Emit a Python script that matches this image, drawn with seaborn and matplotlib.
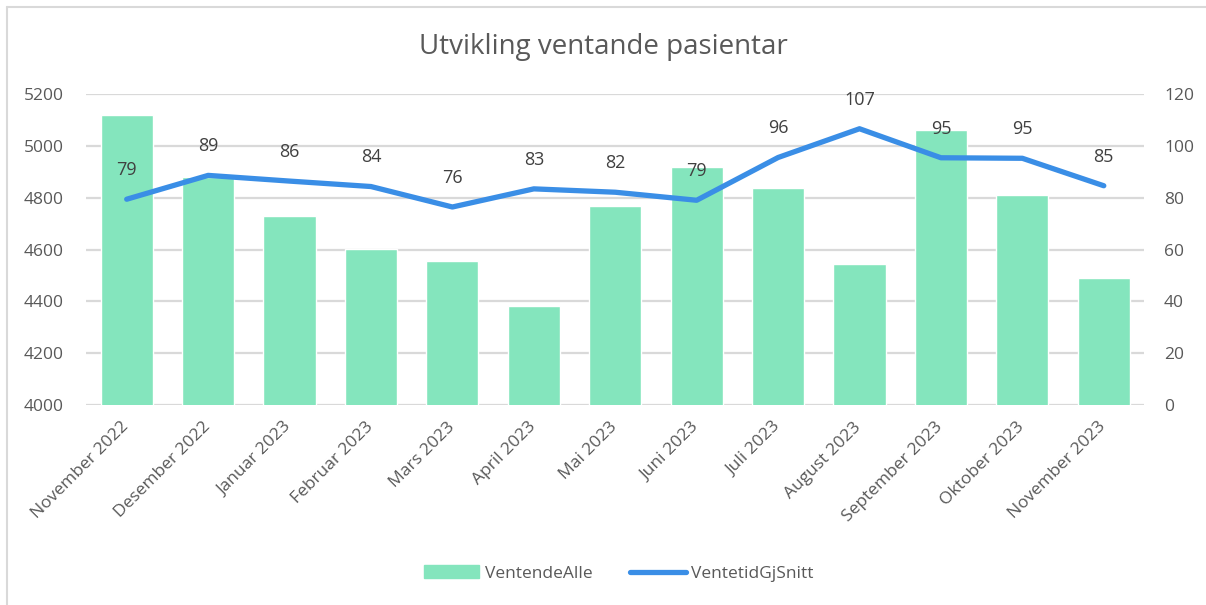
import numpy as np
import pandas as pd
import matplotlib
matplotlib.use("Agg")
import matplotlib.pyplot as plt
import matplotlib.transforms as mtransforms
import seaborn as sns
from matplotlib.lines import Line2D
from matplotlib.patches import Patch

# DATA
maaneder = ["November 2022", "Desember 2022", "Januar 2023", "Februar 2023",
            "Mars 2023", "April 2023", "Mai 2023", "Juni 2023", "Juli 2023",
            "August 2023", "September 2023", "Oktober 2023", "November 2023"]
ventende_alle = [5119, 4879, 4729, 4602, 4556, 4382, 4768, 4919, 4838,
                 4543, 5061, 4809, 4490]
ventetid_snitt = [79.4, 88.6, 86.4, 84.3, 76.4, 83.4, 82.1, 79.0, 95.5,
                  106.6, 95.4, 95.2, 84.6]

df = pd.DataFrame({"Maaned": maaneder, "VentendeAlle": ventende_alle,
                   "VentetidGjSnitt": ventetid_snitt})

# FARGER OG STIL
bar_farge = "#84E5BD"
linje_farge = "#3A8EE6"
tekst_farge = "#595959"
grid_farge = "#D9D9D9"

sns.set_style("white")
plt.rcParams["font.family"] = ["Open Sans", "DejaVu Sans"]

fig = plt.figure(figsize=(12.06, 6.05), dpi=100)
ax = fig.add_axes([0.0713, 0.3306, 0.8777, 0.5140])

# Søyler
sns.barplot(data=df, x="Maaned", y="VentendeAlle", color=bar_farge,
            saturation=1, width=0.64, ax=ax, zorder=2)
ax.set_ylim(4000, 5200)
ax.set_yticks(np.arange(4000, 5201, 200))
ax.set_xlim(-0.5, len(maaneder) - 0.5)
ax.set_xlabel("")
ax.set_ylabel("")
ax.grid(axis="y", color=grid_farge, linewidth=1.6, zorder=0)
ax.set_axisbelow(True)
for s in ax.spines.values():
    s.set_visible(False)
ax.tick_params(axis="y", length=0, labelsize=12.5, colors=tekst_farge, pad=16)
ax.tick_params(axis="x", length=0, labelsize=12.5, colors=tekst_farge, pad=10)
skift = mtransforms.ScaledTranslation(-6 / 100, 0, fig.dpi_scale_trans)
for lbl in ax.get_xticklabels():
    lbl.set_rotation(45)
    lbl.set_ha("right")
    lbl.set_rotation_mode("anchor")
    lbl.set_transform(lbl.get_transform() + skift)

# Linje på sekundær akse
ax2 = ax.twinx()
x_pos = np.arange(len(maaneder))
sns.lineplot(x=x_pos, y=df["VentetidGjSnitt"], color=linje_farge,
             linewidth=3.8, ax=ax2, solid_capstyle="round", zorder=3)
ax2.set_ylim(0, 120)
ax2.set_yticks(np.arange(0, 121, 20))
ax2.set_ylabel("")
for s in ax2.spines.values():
    s.set_visible(False)
ax2.tick_params(axis="y", length=0, labelsize=12.5, colors=tekst_farge, pad=14)

for xi, v in zip(x_pos, ventetid_snitt):
    ax2.annotate(f"{round(v)}", (xi, v), xytext=(0, 21),
                 textcoords="offset points", ha="center", va="center",
                 fontsize=13, color="#404040")

fig.suptitle("Utvikling ventande pasientar", y=0.945, fontsize=20,
             color=tekst_farge)

# Forklaring
handles = [Patch(color=bar_farge, label="VentendeAlle"),
           Line2D([0], [0], color=linje_farge, linewidth=3.8,
                  solid_capstyle="round", label="VentetidGjSnitt")]
fig.legend(handles=handles, loc="center", bbox_to_anchor=(0.513, 0.052),
           ncol=2, frameon=False, fontsize=12.5, labelcolor=tekst_farge,
           handlelength=3.2, handleheight=0.8, columnspacing=2.2,
           handletextpad=0.3)

# Ramme
fig.add_artist(Line2D([0.006, 0.006], [0.0, 0.989], color=grid_farge,
                      linewidth=1.5, transform=fig.transFigure))
fig.add_artist(Line2D([0.006, 1.0], [0.989, 0.989], color=grid_farge,
                      linewidth=1.5, transform=fig.transFigure))

fig.savefig("out.png", dpi=100)
